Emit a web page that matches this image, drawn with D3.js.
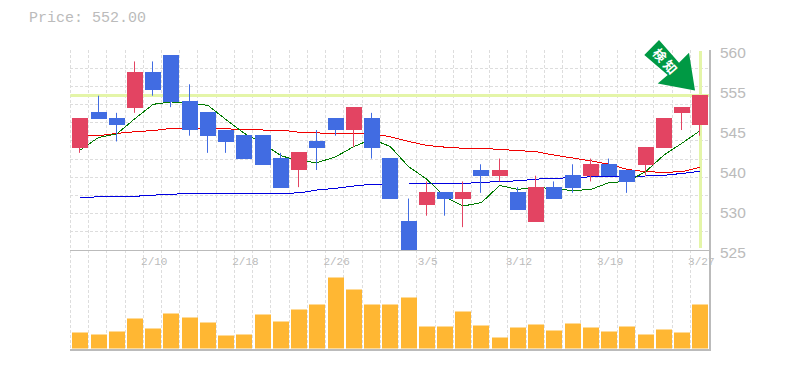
<!DOCTYPE html>
<html>
<head>
<meta charset="utf-8">
<script src="https://cdn.jsdelivr.net/npm/d3@7"></script>
<style>
html, body { margin: 0; padding: 0; background: #fff; }
svg { display: block; }
text { font-family: "Liberation Mono", monospace; fill: #bbb; }
</style>
</head>
<body>
<div id="chart"></div>
<script>
const currentPrice = 552;

const dates = ["2/4","2/5","2/6","2/7","2/10","2/12","2/13","2/14","2/17","2/18","2/19","2/20","2/21","2/25","2/26","2/27","2/28","3/2","3/3","3/5","3/6","3/9","3/10","3/11","3/12","3/13","3/16","3/17","3/18","3/19","3/23","3/24","3/25","3/26","3/27"];
const opens  = [543,549,548,550,556,559,551,549,546,545,545,541,539,544,548,546,548,541,530,533,535,534,539,538,535,530,536,538,538,540,539,540,543,549,547];
const closes = [548,548,547,556,553,551,546,545,544,541,540,536,542,543,546,550,543,534,525,535,534,535,538,539,532,536,534,536,540,538,537,543,548,550,552];
const highs  = [548,552,549,558,558,559,554,549,546,545,545,542,542,546,548,550,549,541,534,537,535,537,540,541,536,538,537,540,541,541,539,543,548,550,552];
const lows   = [542,548,544,549,552,550,545,542,542,541,540,536,536,539,545,543,541,534,525,531,531,529,535,537,532,530,534,535,537,538,535,538,543,546,545];
const volumes = [1600,1400,1700,3000,2000,3500,3100,2600,1300,1400,3400,2700,3900,4400,7100,5900,4400,4400,5100,2200,2200,3700,2300,1100,2100,2400,1800,2500,2100,1700,2200,1400,1900,1600,4400];

const ma5  = [542.5,544.7,545.3,548,550.5,550.9,550.7,550.3,547.8,545.4,543.7,541.5,540.6,540.3,541.3,543.1,544.4,543.1,539.6,537.4,534.3,532.7,533.3,536.3,535.6,536,535.7,535.4,535.6,536.8,537,538.7,541.6,543.7,545.9];
const ma25 = [545,545,545.4,545.7,545.9,546.3,546.3,546.3,546.2,546.1,546,546,545.6,545.5,545.3,545.4,545.4,544.8,544,543.3,543,542.8,542.8,542.6,542.4,542.2,541.6,541.1,540.6,540,539.1,538.7,538.6,538.7,539.5];
const ma75 = [534.2,534.3,534.4,534.4,534.6,534.75,534.9,534.9,534.9,534.9,534.9,534.9,535,535.5,535.8,536.2,536.5,536.55,536.55,536.6,536.67,536.67,536.8,537,537.1,537.4,537.54,537.66,537.8,537.83,537.83,537.95,538.07,538.4,538.77];

const priceTicks = [560,553,546,539,532,525];
const priceTickLabels = ["560","555","545","540","530","525"];
const gridCount = 11;
const dateLabels = ["2/10","2/18","2/26","3/5","3/12","3/19","3/27"];

const upColor = "#e34462", downColor = "#416ce2", volColor = "#ffb733";
const gridColor = "#ddd", axisColor = "#bbb", hiColor = "#e4f5a8";

const width = 785, height = 370;
const left = 70.3, step = 18.235, right = 709.5;
const top1 = 50, bottom1 = 250, bottom2 = 348.5;

const svg = d3.select("#chart").append("svg")
    .attr("width", width)
    .attr("height", height);

const x = d3.scaleBand()
    .domain(dates)
    .range([left, left + step * dates.length]);
const y = d3.scaleLinear().domain([525, 560]).range([bottom1, top1]);
const yVol = d3.scaleLinear().domain([0, 9850]).range([bottom2, bottom1]);

const cx = d => x(d) + 10;

svg.append("text")
    .attr("x", 29)
    .attr("y", 22)
    .attr("font-size", 15)
    .text("Price: " + currentPrice.toFixed(2));

// grid
const grid = svg.append("g")
    .attr("stroke", gridColor)
    .attr("stroke-dasharray", "3,2")
    .attr("shape-rendering", "crispEdges");

grid.selectAll("line.h")
    .data(d3.range(gridCount))
    .join("line")
    .attr("class", "h")
    .attr("x1", left)
    .attr("x2", right)
    .attr("y1", d => bottom1 - d * (bottom1 - top1) / gridCount)
    .attr("y2", d => bottom1 - d * (bottom1 - top1) / gridCount);

grid.selectAll("line.v")
    .data(dates)
    .join("line")
    .attr("class", "v")
    .attr("x1", d => x(d))
    .attr("x2", d => x(d))
    .attr("y1", top1)
    .attr("y2", bottom2 + 1);

// current price cross
const lastX = Math.floor(cx(dates[dates.length - 1])) + 0.5;
svg.append("line")
    .attr("x1", left).attr("x2", right)
    .attr("y1", Math.floor(y(currentPrice)) + 0.5).attr("y2", Math.floor(y(currentPrice)) + 0.5)
    .attr("stroke", hiColor).attr("stroke-width", 3);
svg.append("line")
    .attr("x1", lastX).attr("x2", lastX)
    .attr("y1", top1 + 1).attr("y2", bottom1 - 2)
    .attr("stroke", hiColor).attr("stroke-width", 3);

// moving averages
const line = d3.line()
    .x((d, i) => cx(dates[i]))
    .y(d => y(d));
[[ma75, "#0000e0"], [ma25, "#f00000"], [ma5, "#007a00"]].forEach(([s, c]) => {
    svg.append("path")
        .attr("d", line(s))
        .attr("fill", "none")
        .attr("stroke", c)
        .attr("stroke-width", 1)
        .attr("shape-rendering", "crispEdges");
});

// candles
const candle = svg.append("g")
    .selectAll("g")
    .data(dates)
    .join("g")
    .attr("fill", (d, i) => closes[i] >= opens[i] ? upColor : downColor)
    .attr("stroke", (d, i) => closes[i] >= opens[i] ? upColor : downColor);

candle.append("line")
    .attr("x1", d => Math.round(cx(d)) - 0.5)
    .attr("x2", d => Math.round(cx(d)) - 0.5)
    .attr("y1", (d, i) => y(highs[i]))
    .attr("y2", (d, i) => y(lows[i]))
    .attr("stroke-width", 1);

const bodyTop = i => Math.floor(y(Math.max(opens[i], closes[i])));
const bodyBottom = i => Math.ceil(y(Math.min(opens[i], closes[i])));

candle.append("rect")
    .attr("x", d => Math.round(x(d) + 2))
    .attr("width", 16)
    .attr("y", (d, i) => bodyTop(i))
    .attr("height", (d, i) => bodyBottom(i) - bodyTop(i))
    .attr("stroke", "none");

// volume
svg.append("g")
    .attr("fill", volColor)
    .selectAll("rect")
    .data(dates)
    .join("rect")
    .attr("x", d => Math.round(x(d) + 2))
    .attr("width", 16)
    .attr("y", (d, i) => yVol(volumes[i]))
    .attr("height", (d, i) => yVol(0) - yVol(volumes[i]));

// frame
const frame = svg.append("g")
    .attr("stroke", axisColor)
    .attr("shape-rendering", "crispEdges");
frame.append("line").attr("x1", left).attr("x2", right + 0.5).attr("y1", bottom1 + 0.5).attr("y2", bottom1 + 0.5);
frame.append("line").attr("x1", left).attr("x2", right + 1).attr("y1", 350).attr("y2", 350).attr("stroke-width", 2);
frame.append("line").attr("x1", right + 0.5).attr("x2", right + 0.5).attr("y1", top1).attr("y2", 350).attr("stroke-width", 1.5);

// axis labels
svg.append("g")
    .selectAll("text")
    .data(priceTicks)
    .join("text")
    .attr("x", 720)
    .attr("y", d => y(d) + 8)
    .attr("font-size", 15.5)
    .style("font-family", "'Liberation Sans'")
    .text((d, i) => priceTickLabels[i]);

svg.append("g")
    .selectAll("text")
    .data(dateLabels)
    .join("text")
    .attr("x", d => cx(d) + 1)
    .attr("y", 265)
    .attr("text-anchor", "middle")
    .attr("font-size", 11)
    .text(d => d);

// signal arrow
const arrow = svg.append("g");
arrow.append("path")
    .attr("d", "M659,40L644.3,55L667.7,75L657.7,83.5L695,90.5L689,52.7L679,62.7Z")
    .attr("fill", "#009944");
arrow.append("text")
    .attr("transform", "translate(666.5,62) rotate(49)")
    .attr("text-anchor", "middle")
    .attr("dominant-baseline", "central")
    .attr("font-size", 13)
    .attr("font-weight", "bold")
    .attr("letter-spacing", 3)
    .style("font-family", "'Noto Sans CJK JP'")
    .style("fill", "#fff")
    .text("検知");
</script>
</body>
</html>
